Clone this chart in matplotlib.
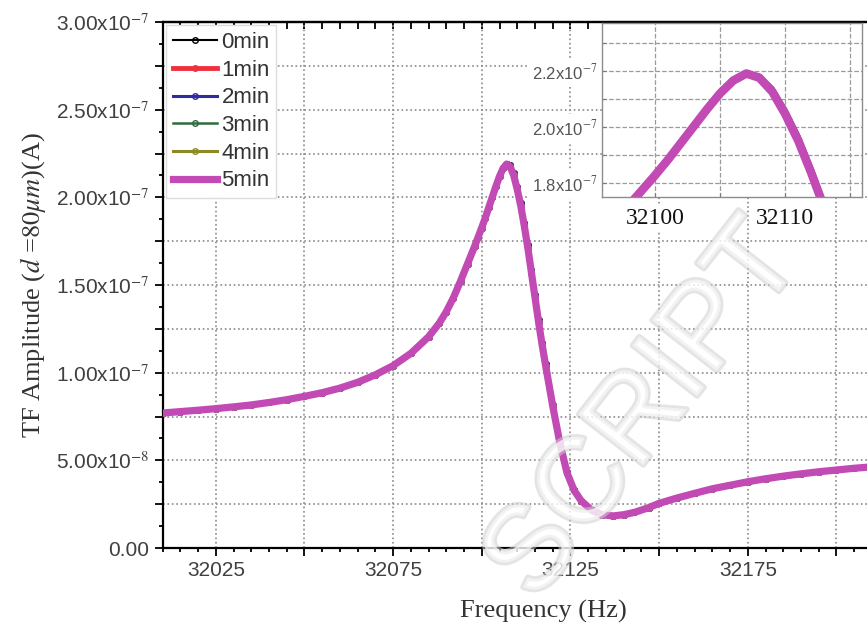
import matplotlib

matplotlib.use("Agg")
import matplotlib.pyplot as plt
import matplotlib.patheffects as pe
from matplotlib.ticker import MultipleLocator, FuncFormatter

# Frequency sweep (Hz) and TF amplitude (units of 1e-7 A).
freq_hz = [
    32010, 32015, 32020, 32025, 32030, 32035, 32040, 32045, 32050, 32055,
    32060, 32065, 32070, 32075, 32080, 32085, 32088, 32090, 32092, 32094,
    32096, 32098, 32099, 32100, 32101, 32102, 32103, 32104, 32105, 32106,
    32107, 32108, 32109, 32110, 32111, 32112, 32113, 32114, 32115, 32116,
    32117, 32118, 32120, 32122, 32124, 32126, 32128, 32131, 32134, 32137,
    32140, 32143, 32147, 32150, 32155, 32160, 32165, 32170, 32175, 32180,
    32185, 32190, 32195, 32200, 32205, 32210,
]
amp_5min = [
    0.770, 0.778, 0.786, 0.795, 0.805, 0.816, 0.830, 0.846, 0.865, 0.886,
    0.912, 0.945, 0.988, 1.040, 1.110, 1.205, 1.282, 1.348, 1.428, 1.522,
    1.622, 1.722, 1.775, 1.828, 1.884, 1.944, 2.004, 2.064, 2.120, 2.165,
    2.190, 2.175, 2.125, 2.045, 1.950, 1.835, 1.710, 1.570, 1.430, 1.290,
    1.160, 1.040, 0.810, 0.600, 0.430, 0.330, 0.270, 0.215, 0.190, 0.183,
    0.190, 0.203, 0.230, 0.255, 0.285, 0.312, 0.338, 0.358, 0.378, 0.395,
    0.410, 0.423, 0.435, 0.445, 0.455, 0.463,
]
# 0min sits a hair to the right on the falling flank (dark edge in the inset)
amp_0min = [
    0.770, 0.778, 0.786, 0.795, 0.805, 0.816, 0.830, 0.846, 0.865, 0.886,
    0.912, 0.945, 0.988, 1.040, 1.110, 1.205, 1.282, 1.348, 1.428, 1.522,
    1.622, 1.722, 1.775, 1.828, 1.884, 1.944, 2.004, 2.064, 2.120, 2.165,
    2.190, 2.182, 2.137, 2.060, 1.967, 1.852, 1.727, 1.587, 1.445, 1.303,
    1.170, 1.048, 0.815, 0.603, 0.432, 0.331, 0.270, 0.215, 0.190, 0.183,
    0.190, 0.203, 0.230, 0.255, 0.285, 0.312, 0.338, 0.358, 0.378, 0.395,
    0.410, 0.423, 0.435, 0.445, 0.455, 0.463,
]
amp_1min = amp_5min
amp_2min = amp_0min
amp_3min = amp_5min
amp_4min = amp_5min

series_labels = ["0min", "1min", "2min", "3min", "4min", "5min"]
series_amps = [amp_0min, amp_1min, amp_2min, amp_3min, amp_4min, amp_5min]
series_colors = ["#000000", "#f0303f", "#2c2ca0", "#2e6a3c", "#8c8a22", "#c24ab4"]
series_lw = [1.5, 3.5, 2.2, 1.8, 2.2, 5.2]

SCALE = 1e-7


def main_ylabel(v, pos):
    k = round(v / 0.25e-7)
    if k % 2:
        return ""
    if k == 0:
        return "0.00"
    if v < 1e-7:
        return rf"{v / 1e-8:.2f}x10$^{{-8}}$"
    return rf"{v / 1e-7:.2f}x10$^{{-7}}$"


def main_xlabel(v, pos):
    return f"{v:.0f}" if round(v) % 50 == 25 else ""


def inset_ylabel(v, pos):
    k = round(v / 1e-8)
    return rf"{v / 1e-7:.1f}x10$^{{-7}}$" if k % 2 == 0 else ""


def inset_xlabel(v, pos):
    return f"{v:.0f}" if round(v) % 10 == 0 else ""


def main():
    plt.rcParams["mathtext.fontset"] = "stix"
    fig = plt.figure(figsize=(8.67, 6.34), dpi=100)
    ax = fig.add_axes([0.1875, 0.1356, 0.8796, 0.8297])

    xs = freq_hz
    for label, amps, color, lw in zip(series_labels, series_amps, series_colors, series_lw):
        ys = [a * SCALE for a in amps]
        ax.plot(xs, ys, color=color, lw=lw, marker="o", markersize=4,
                markerfacecolor="none", markeredgewidth=1, label=label, zorder=3)

    ax.set_xlim(32010, 32225)
    ax.set_ylim(0, 3.0e-7)
    ax.xaxis.set_major_locator(MultipleLocator(25))
    ax.xaxis.set_minor_locator(MultipleLocator(5))
    ax.yaxis.set_major_locator(MultipleLocator(0.25e-7))
    ax.yaxis.set_minor_locator(MultipleLocator(0.125e-7))
    ax.xaxis.set_major_formatter(FuncFormatter(main_xlabel))
    ax.yaxis.set_major_formatter(FuncFormatter(main_ylabel))
    ax.tick_params(which="both", direction="out", top=False, right=False,
                   labelsize=15, labelcolor="#404040", width=1.3)
    ax.tick_params(which="major", length=6)
    ax.tick_params(which="minor", length=3)
    for lab in ax.get_xticklabels() + ax.get_yticklabels():
        lab.set_family("Liberation Sans")
    ax.grid(True, which="major", linestyle=":", color="#8a8a8a", lw=1.2)
    for sp in ax.spines.values():
        sp.set_linewidth(1.6)
    # top spine carries inward ticks only
    top = ax.secondary_xaxis("top")
    top.xaxis.set_major_locator(MultipleLocator(5))
    top.tick_params(direction="in", labeltop=False, length=5, width=1.3)
    top.spines["top"].set_linewidth(1.6)

    ax.set_xlabel("Frequency (Hz)", fontfamily="Liberation Serif", fontsize=19,
                  color="#333333", labelpad=14)
    ax.set_ylabel(r"TF Amplitude ($d$ =$\mathit{80}\mu m$)(A)", fontfamily="Liberation Serif",
                  fontsize=19, color="#333333", labelpad=6)

    leg = ax.legend(loc="upper left", fontsize=16, labelspacing=0.3, handlelength=2.0,
                    handletextpad=0.2, borderpad=0.3, borderaxespad=0.15,
                    fancybox=False, edgecolor="#dddddd", framealpha=1.0)
    for t in leg.get_texts():
        t.set_family("Liberation Sans")
        t.set_color("#333333")
    leg.set_zorder(5)

    # inset zoom on the resonance peak
    ins = fig.add_axes([0.6943, 0.6898, 0.300, 0.2739])
    for label, amps, color, lw in zip(series_labels, series_amps, series_colors, series_lw):
        ys = [a * SCALE for a in amps]
        ins.plot(xs, ys, color=color, lw=lw + 1.0)
    ins.set_xlim(32095.9, 32115.9)
    ins.set_ylim(1.751e-7, 2.37e-7)
    ins.xaxis.set_major_locator(MultipleLocator(5))
    ins.yaxis.set_major_locator(MultipleLocator(0.1e-7))
    ins.xaxis.set_major_formatter(FuncFormatter(inset_xlabel))
    ins.yaxis.set_major_formatter(FuncFormatter(inset_ylabel))
    ins.grid(True, linestyle="--", color="#9a9a9a", lw=0.9)
    ins.tick_params(direction="in", length=3, color="#777777", pad=3)
    ins.tick_params(axis="y", labelsize=12, labelcolor="#555555")
    ins.tick_params(axis="x", labelsize=17, labelcolor="#111111", pad=8)
    for lab in ins.get_yticklabels():
        lab.set_family("Liberation Sans")
        lab.set_bbox(dict(facecolor="white", edgecolor="none", pad=3))
    for lab in ins.get_xticklabels():
        lab.set_family("Liberation Serif")
        lab.set_bbox(dict(facecolor="white", edgecolor="none", pad=2))
    for sp in ins.spines.values():
        sp.set_color("#8c8c8c")
        sp.set_linewidth(1.0)

    # faint manuscript watermark
    fig.text(0.745, 0.35, "SCRIPT", rotation=52, fontsize=86, fontfamily="Liberation Sans",
             color="white", alpha=0.55, ha="center", va="center", zorder=10,
             path_effects=[pe.withStroke(linewidth=4, foreground="#cfcfcf")])

    fig.savefig("out.png", dpi=100)


if __name__ == "__main__":
    main()
